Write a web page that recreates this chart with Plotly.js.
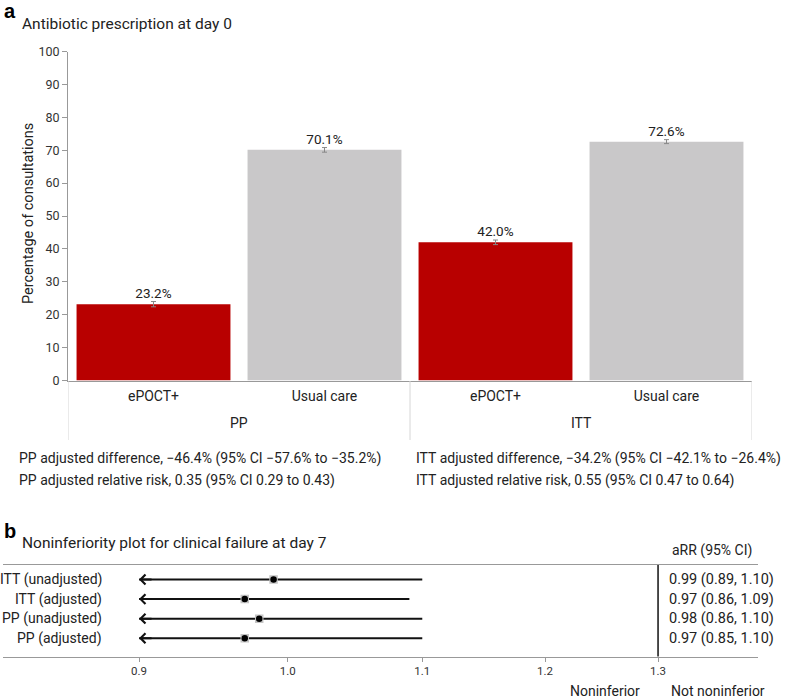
<!DOCTYPE html>
<html>
<head>
<meta charset="utf-8">
<script src="https://cdn.plot.ly/plotly-3.0.1.min.js"></script>
<style>html,body{margin:0;padding:0;background:#fff}#chart{width:786px;height:700px}</style>
</head>
<body>
<div id="chart"></div>
<script>
// ---------- Panel a data ----------
var groups = ['PP', 'PP', 'ITT', 'ITT'];
var arms = ['ePOCT+', 'Usual care', 'ePOCT+', 'Usual care'];
var pctValues = [23.2, 70.1, 42.0, 72.6];
var pctErrors = [0.8, 0.7, 0.7, 0.6];
var yTickVals = [0, 10, 20, 30, 40, 50, 60, 70, 80, 90, 100];
var groupNames = ['PP', 'ITT'];
var footnotesPP = ['PP adjusted difference, \u221246.4% (95% CI \u221257.6% to \u221235.2%)',
                   'PP adjusted relative risk, 0.35 (95% CI 0.29 to 0.43)'];
var footnotesITT = ['ITT adjusted difference, \u221234.2% (95% CI \u221242.1% to \u221226.4%)',
                    'ITT adjusted relative risk, 0.55 (95% CI 0.47 to 0.64)'];

// ---------- Panel b data ----------
var analyses = ['ITT (unadjusted)', 'ITT (adjusted)', 'PP (unadjusted)', 'PP (adjusted)'];
var aRR = [0.99, 0.97, 0.98, 0.97];
var ciLow = [0.89, 0.86, 0.86, 0.85];
var ciHigh = [1.10, 1.09, 1.10, 1.10];
var xTickVals = [0.9, 1.0, 1.1, 1.2, 1.3];
var xTickText = ['0.9', '1.0', '1.1', '1.2', '1.3'];
var niMargin = 1.3;
var axisMin = 0.9;

// ---------- helpers ----------
var W = 786, H = 700;
function px(x) { return x / W; }
function py(y) { return (H - y) / H; }
var FONT = 'Roboto, "Liberation Sans", sans-serif';
var TXT = '#222';
var RED = '#b80000', GREY = '#c9c8c9';

var catIdx = arms.map(function (_, i) { return i; });
var colors = arms.map(function (a) { return a === 'ePOCT+' ? RED : GREY; });

var traces = [];
traces.push({
  type: 'bar', x: catIdx, y: pctValues, xaxis: 'x', yaxis: 'y',
  width: 0.9,
  marker: { color: colors, line: { width: 0 } },
  error_y: { type: 'data', array: pctErrors, visible: true, color: '#888', thickness: 1, width: 2.5 },
  texttemplate: '%{y:.1f}%', textposition: 'outside', cliponaxis: false,
  textfont: { family: FONT, size: 13.5, color: TXT },
  hoverinfo: 'skip', showlegend: false
});

// panel b rows (top to bottom)
var n = analyses.length;
var rowY = analyses.map(function (_, i) { return n - i; });
var lx = [], ly = [];
for (var i = 0; i < n; i++) {
  lx.push(Math.max(ciLow[i], axisMin), ciHigh[i], null);
  ly.push(rowY[i], rowY[i], null);
}
traces.push({
  type: 'scatter', mode: 'lines', x: lx, y: ly, xaxis: 'x2', yaxis: 'y2',
  line: { color: '#111', width: 2 }, hoverinfo: 'skip', showlegend: false
});
traces.push({
  type: 'scatter', mode: 'markers', x: aRR, y: rowY, xaxis: 'x2', yaxis: 'y2',
  marker: { symbol: 'square', size: 8.5, color: '#c4c4c4' }, hoverinfo: 'skip', showlegend: false
});
traces.push({
  type: 'scatter', mode: 'markers', x: aRR, y: rowY, xaxis: 'x2', yaxis: 'y2',
  marker: { symbol: 'circle', size: 6.5, color: '#000' }, hoverinfo: 'skip', showlegend: false
});

var ann = [];
function txt(x, y, t, opts) {
  var a = { xref: 'paper', yref: 'paper', x: px(x), y: py(y), text: t, showarrow: false,
            xanchor: 'left', yanchor: 'middle', font: { family: FONT, size: 14, color: TXT } };
  for (var k in opts) a[k] = opts[k];
  ann.push(a);
}
// panel letters & titles
txt(2, 11, '<b>a</b>', { font: { family: '"Liberation Sans", Arial, sans-serif', size: 20, color: '#000' } });
txt(20, 24, 'Antibiotic prescription at day 0', { font: { family: FONT, size: 15.5, color: TXT } });
txt(2, 531, '<b>b</b>', { font: { family: '"Liberation Sans", Arial, sans-serif', size: 20, color: '#000' } });
txt(20, 543, 'Noninferiority plot for clinical failure at day 7', { font: { family: FONT, size: 15.5, color: TXT } });
// y title
txt(28, 214, 'Percentage of consultations', { xanchor: 'center', textangle: -90, font: { family: FONT, size: 14.5, color: TXT } });
// group labels
groupNames.forEach(function (g) {
  var idx = [];
  groups.forEach(function (gg, j) { if (gg === g) idx.push(j); });
  var mid = (idx[0] + idx[idx.length - 1]) / 2;
  ann.push({ xref: 'x', yref: 'paper', x: mid, y: py(423), text: g, showarrow: false,
             xanchor: 'center', yanchor: 'middle', font: { family: FONT, size: 14, color: TXT } });
});
// footnotes
footnotesPP.forEach(function (t, j) { txt(17, 458 + 22 * j, t); });
footnotesITT.forEach(function (t, j) { txt(414, 458 + 22 * j, t); });

// panel b labels
for (var i = 0; i < n; i++) {
  ann.push({ xref: 'paper', yref: 'y2', x: px(104), y: rowY[i], text: analyses[i], showarrow: false,
             xanchor: 'right', yanchor: 'middle', font: { family: FONT, size: 14, color: TXT } });
  ann.push({ xref: 'paper', yref: 'y2', x: px(667), y: rowY[i],
             text: aRR[i].toFixed(2) + ' (' + ciLow[i].toFixed(2) + ', ' + ciHigh[i].toFixed(2) + ')',
             showarrow: false, xanchor: 'left', yanchor: 'middle', font: { family: FONT, size: 14.5, color: TXT } });
  if (ciLow[i] < axisMin) {
    ann.push({ xref: 'x2', yref: 'y2', x: Math.log10(axisMin), y: rowY[i], text: '', showarrow: true,
               ax: 14, ay: 0, arrowhead: 4, arrowsize: 0.95, arrowwidth: 2, arrowcolor: '#111', standoff: 0 });
  }
}
txt(670, 550, 'aRR (95% CI)', { font: { family: FONT, size: 14, color: TXT } });
txt(642, 691, 'Noninferior', { xanchor: 'right', font: { family: FONT, size: 14, color: TXT } });
txt(669, 691, 'Not noninferior', { font: { family: FONT, size: 14, color: TXT } });

// shapes: dividers & NI line
var shapes = [];
var bounds = [-0.5];
for (var j = 1; j < groups.length; j++) if (groups[j] !== groups[j - 1]) bounds.push(j - 0.5);
bounds.push(groups.length - 0.5);
bounds.forEach(function (b) {
  shapes.push({ type: 'line', xref: 'x', yref: 'paper', x0: b, x1: b, y0: py(381), y1: py(440),
                line: { color: '#d6d6d6', width: 1 } });
});
shapes.push({ type: 'line', xref: 'x2', yref: 'y2 domain', x0: niMargin, x1: niMargin, y0: 0, y1: 1,
              line: { color: '#111', width: 1.5 } });

var layout = {
  width: W, height: H, margin: { l: 0, r: 0, t: 0, b: 0 },
  paper_bgcolor: '#fff', plot_bgcolor: 'rgba(0,0,0,0)',
  font: { family: FONT, color: TXT },
  showlegend: false, hovermode: false,
  xaxis: {
    domain: [px(68), px(752)], range: [-0.5, arms.length - 0.5], anchor: 'y',
    tickvals: catIdx, ticktext: arms, ticks: 'outside', ticklen: 3, tickcolor: 'rgba(0,0,0,0)',
    showline: true, linecolor: '#999', linewidth: 1, showgrid: false, zeroline: false,
    tickfont: { family: FONT, size: 14, color: TXT }, fixedrange: true
  },
  yaxis: {
    domain: [py(380.5), py(51.5)], range: [0, 100], anchor: 'x',
    tickvals: yTickVals, ticks: 'outside', ticklen: 5, tickcolor: '#999',
    showline: true, linecolor: '#999', linewidth: 1, showgrid: false, zeroline: false,
    tickfont: { family: FONT, size: 12.5, color: '#333' }, fixedrange: true
  },
  xaxis2: {
    type: 'log', domain: [px(3), px(758)], range: [Math.log10(0.8173), Math.log10(1.3954)], anchor: 'y2',
    tickvals: xTickVals, ticktext: xTickText, ticks: 'outside', ticklen: 4, tickcolor: '#999',
    showline: true, mirror: true, linecolor: '#999', linewidth: 1, showgrid: false, zeroline: false,
    tickfont: { family: FONT, size: 11.5, color: '#333' }, fixedrange: true
  },
  yaxis2: {
    domain: [py(656.5), py(565)], range: [0.065, 4.742], anchor: 'x2',
    visible: false, fixedrange: true
  },
  annotations: ann, shapes: shapes
};

Plotly.newPlot('chart', traces, layout, { staticPlot: true, displayModeBar: false });
</script>
</body>
</html>
